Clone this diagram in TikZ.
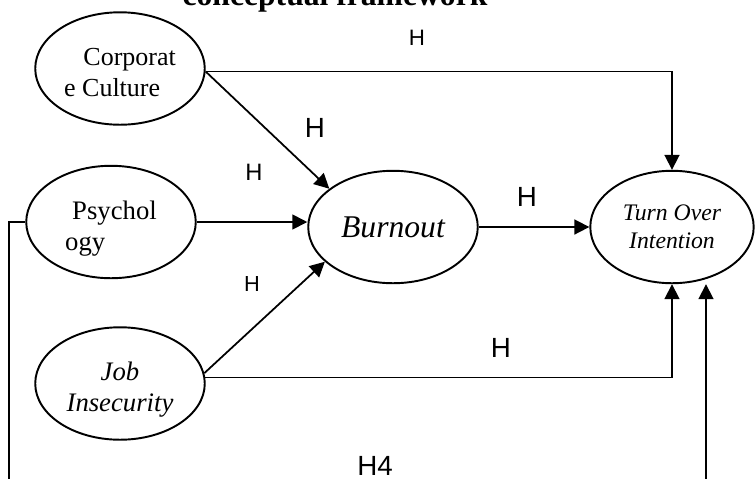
\documentclass[tikz,border=0pt]{standalone}
\usepackage{fontspec}
\setmainfont{Liberation Serif}
\newfontfamily\hfont{Liberation Sans}
\usetikzlibrary{arrows.meta}
\usetikzlibrary{shapes.geometric, math}

\tikzset{
  var/.style={ellipse, draw, line width=1.1pt, inner sep=0pt, minimum width=96.5pt, minimum height=64pt},
  link/.style={line width=1pt},
  hyp/.style={font=\hfont\fontsize{#1}{#1}\selectfont, inner sep=0pt},
  >={Triangle[length=8.5pt,width=8.5pt]}
}

\begin{document}
\begin{tikzpicture}[x=0.02cm, y=-0.02cm]
\tikzmath{
\cx=120;
\bx=393;
\tx=672;
\my=227;
}
\useasboundingbox (0,0) rectangle (755,478);
%title (cut off at the top)
\node[anchor=base, inner sep=0pt, font=\bfseries\fontsize{18}{18}\selectfont] (title) at (335,5) {conceptual framework};

%variables
\node[var, align=left, font=\fontsize{14.8}{17.6}\selectfont] (cc) at (\cx,68.5) {\rule{0pt}{14.8pt}\hspace*{11pt}Corporat\\e Culture};
\node[var, align=left, font=\fontsize{15.2}{17.6}\selectfont] (psy) at (111,222) {\rule{0pt}{18pt}\hspace*{4pt}Psychol\\ogy};
\node[var, align=center, font=\itshape\fontsize{15.2}{18}\selectfont] (job) at (\cx,383.5) {\rule{0pt}{17.4pt}Job\\Insecurity};
\node[var, font=\itshape\fontsize{18}{18}\selectfont] (burn) at (\bx,\my) {Burnout};
\node[var, minimum width=93pt, align=center, font=\itshape\fontsize{13.5}{15.9}\selectfont] (toi) at (\tx,\my) {Turn Over\\Intention};

%paths
\draw[link,->] (cc.-2) -| (toi.north);
\draw[link,->] (cc.-2) -- (burn.149);
\draw[link,->] (psy.east) -- (psy.east -| burn.west);
\draw[link,->] (job.7) -- (burn.207);
\draw[link,->] (burn.east) -- (toi.west);
\draw[link,->] (job.4) -| (toi.south);

%feedback line, runs off the bottom
\coordinate (fbL) at (9,490);
\coordinate (fbR) at (706,490);
\draw[link] (psy.west) -| (fbL);
\draw[link,->] (fbR) -- (fbR |- toi.south);

%hypotheses
\node[hyp=12.7] (h1) at (417,38) {H};
\node[hyp=15.8] (h2) at (315,128) {H};
\node[hyp=13.5] (h3) at (254,172) {H};
\node[hyp=12.4] (h4) at (252,284) {H};
\node[hyp=15.8] (h5) at (527,197) {H};
\node[hyp=15.8] (h6) at (501,348) {H};
\node[hyp=15.8] (h7) at (375,466) {H4};
\end{tikzpicture}
\end{document}
